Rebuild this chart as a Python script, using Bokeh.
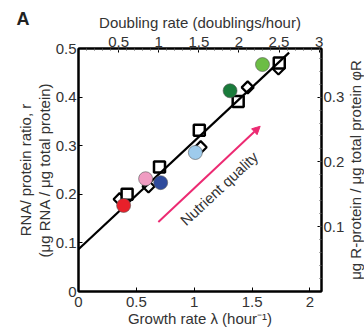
import math
from bokeh.plotting import figure
from bokeh.models import (Range1d, LinearAxis, FixedTicker, Label, Arrow, NormalHead,
                          ColumnDataSource)
from bokeh.embed import file_html
from bokeh.resources import INLINE

# ---- data ----
circle_lambda = [0.39, 0.58, 0.71, 1.01, 1.31, 1.59]
circle_r = [0.177, 0.232, 0.224, 0.286, 0.413, 0.467]
circle_colors = ["#e8202a", "#f09cc2", "#2f4b9c", "#9ecbec", "#1a7b3b", "#6cbd45"]

square_lambda = [0.42, 0.70, 1.044, 1.38, 1.735]
square_r = [0.200, 0.256, 0.332, 0.391, 0.470]

diamond_lambda = [0.355, 0.605, 1.056, 1.462, 1.728]
diamond_r = [0.190, 0.216, 0.297, 0.420, 0.459]

fit_lambda = [0.0, 1.82]
r0 = 0.087
kappa_t = 4.5
fit_r = [r0 + l / kappa_t for l in fit_lambda]

rho = 0.75  # phi_R = rho * r

x_ticks = [0, 0.5, 1, 1.5, 2]
y_ticks = [0, 0.1, 0.2, 0.3, 0.4, 0.5]
top_ticks = [0.5, 1, 1.5, 2, 2.5, 3]
top_minor = [i / 10 for i in range(1, 31)]
right_ticks = [0.1, 0.2, 0.3]
right_minor = [i / 50 for i in range(1, 19)]

arrow_start = (0.69, 0.143)
arrow_end = (1.57, 0.34)
note_pos = (1.215, 0.212)
panel_letter_pos = (-0.48, 0.56)
right_title_pos = (2.392, 0.25)

FONT = "Liberation Sans"
TXT = "#333333"
FS = "15px"

x_max, y_max = 2.1, 0.5

p = figure(width=364, height=329, output_backend="svg", toolbar_location=None,
           x_range=Range1d(0, x_max), y_range=Range1d(0, y_max),
           min_border_left=77, min_border_right=43, min_border_top=48, min_border_bottom=38)
p.extra_x_ranges = {"dbl": Range1d(0, x_max / math.log(2))}
p.extra_y_ranges = {"phi": Range1d(0, y_max * rho)}
p.grid.visible = False
p.outline_line_color = "black"
p.outline_line_width = 2
p.background_fill_color = "white"
p.border_fill_color = "white"


def style(ax, ticks, minor=None):
    ax.ticker = FixedTicker(ticks=ticks, minor_ticks=minor or [])
    ax.major_label_overrides = {t: "%g" % t for t in ticks}
    ax.axis_line_color = "black"
    ax.axis_line_width = 2
    ax.major_tick_in = 4
    ax.major_tick_out = 0
    ax.minor_tick_in = 2
    ax.minor_tick_out = 0
    ax.major_tick_line_color = "black"
    ax.minor_tick_line_color = "#555555"
    ax.major_label_text_font = FONT
    ax.major_label_text_font_size = FS
    ax.major_label_text_color = TXT
    ax.axis_label_text_font = FONT
    ax.axis_label_text_font_size = FS
    ax.axis_label_text_color = TXT
    ax.axis_label_text_font_style = "normal"
    ax.major_label_standoff = 3
    ax.axis_label_standoff = 3


bottom = p.xaxis[0]
style(bottom, x_ticks)
bottom.axis_label = "Growth rate λ (hour⁻¹)"
bottom.major_label_standoff = 5
bottom.axis_label_standoff = 0

left = p.yaxis[0]
style(left, y_ticks)
left.axis_label = "RNA/ protein ratio, r\n(μg RNA / μg total protein)"
left.major_label_standoff = 2
left.axis_label_standoff = 0
left.axis_label_text_line_height = 1.1

top = LinearAxis(x_range_name="dbl", axis_label="Doubling rate (doublings/hour)")
style(top, top_ticks, top_minor)
top.major_label_standoff = 2
top.axis_label_standoff = 3
p.add_layout(top, "above")

right = LinearAxis(y_range_name="phi")
style(right, right_ticks, right_minor)
right.major_label_standoff = 2
p.add_layout(right, "right")

# open diamonds
p.scatter(diamond_lambda, diamond_r, marker="square", angle=math.pi / 4, size=8.5,
          fill_color="white", line_color="black", line_width=2.2)
# open squares
p.scatter(square_lambda, square_r, marker="square", size=11,
          fill_color="white", line_color="black", line_width=2.5)
# fit line
p.line(fit_lambda, fit_r, line_color="black", line_width=2.2)
# coloured circles
src = ColumnDataSource(dict(x=circle_lambda, y=circle_r, c=circle_colors))
p.scatter("x", "y", source=src, marker="circle", size=14, fill_color="c",
          line_color="#555555", line_width=0.6)

p.add_layout(Arrow(end=NormalHead(size=8, fill_color="#ec2a72", line_color="#ec2a72"),
                   x_start=arrow_start[0], y_start=arrow_start[1],
                   x_end=arrow_end[0], y_end=arrow_end[1],
                   line_color="#ec2a72", line_width=2))

p.add_layout(Label(x=note_pos[0], y=note_pos[1], text="Nutrient quality",
                   angle=math.radians(43), text_align="center", text_baseline="middle",
                   text_font=FONT, text_font_size=FS, text_color=TXT))

# right-hand title (reads bottom-to-top), hosted in the right side panel
p.add_layout(Label(x=right_title_pos[0], y=right_title_pos[1],
                   text="μg R-protein / μg total protein φR",
                   angle=math.pi / 2, text_align="center", text_baseline="middle",
                   text_font=FONT, text_font_size="15px", text_color=TXT), "right")

# panel letter, hosted in the left side panel so it is not clipped to the frame
p.add_layout(Label(x=panel_letter_pos[0], y=panel_letter_pos[1], text="A",
                   text_align="center", text_baseline="middle",
                   text_font=FONT, text_font_size="18px", text_font_style="bold",
                   text_color="#222222"), "left")

open("out.html", "w").write(file_html(p, INLINE))
